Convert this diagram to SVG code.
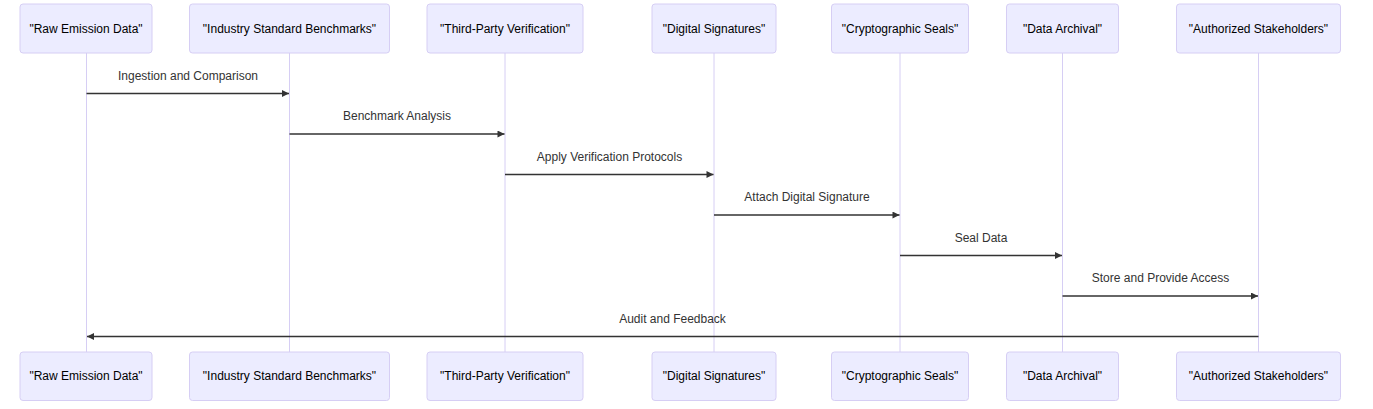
<svg xmlns="http://www.w3.org/2000/svg" width="1373" height="409" viewBox="0 0 1373 409">
<style>
.actor rect{fill:#ECECFF;stroke:#D6CEF4;stroke-width:1}
.actor text{font-family:"Liberation Sans",Arial,sans-serif;font-size:12px;fill:#000;text-anchor:middle;dominant-baseline:central}
.life{stroke:#D6CEF4;stroke-width:1}
.msg{stroke:#333;stroke-width:1.5;fill:none}
.lbl{font-family:"Liberation Sans",Arial,sans-serif;font-size:12px;fill:#333;text-anchor:middle;dominant-baseline:central}
</style>
<defs>
<marker id="ah" viewBox="0 0 10 10" refX="10" refY="5" markerWidth="8" markerHeight="7" markerUnits="userSpaceOnUse" orient="auto">
<path d="M0,0 L10,5 L0,10 z" fill="#333"/>
</marker>
</defs>
<rect width="1373" height="409" fill="#fff"/>
<g id="lifelines">
<line class="life" x1="86.5" y1="53" x2="86.5" y2="352"/>
<line class="life" x1="289.5" y1="53" x2="289.5" y2="352"/>
<line class="life" x1="505" y1="53" x2="505" y2="352"/>
<line class="life" x1="714" y1="53" x2="714" y2="352"/>
<line class="life" x1="900" y1="53" x2="900" y2="352"/>
<line class="life" x1="1062.5" y1="53" x2="1062.5" y2="352"/>
<line class="life" x1="1258.5" y1="53" x2="1258.5" y2="352"/>
</g>
<g id="raw" class="actor">
<rect x="20" y="4" width="132" height="49" rx="3"/><text x="86" y="28.5">"Raw Emission Data"</text>
<rect x="20" y="352" width="132" height="48.5" rx="3"/><text x="86" y="376">"Raw Emission Data"</text>
</g>
<g id="bench" class="actor">
<rect x="189.5" y="4" width="200" height="49" rx="3"/><text x="289.5" y="28.5">"Industry Standard Benchmarks"</text>
<rect x="189.5" y="352" width="200" height="48.5" rx="3"/><text x="289.5" y="376">"Industry Standard Benchmarks"</text>
</g>
<g id="verif" class="actor">
<rect x="427" y="4" width="156" height="49" rx="3"/><text x="505" y="28.5">"Third-Party Verification"</text>
<rect x="427" y="352" width="156" height="48.5" rx="3"/><text x="505" y="376">"Third-Party Verification"</text>
</g>
<g id="sig" class="actor">
<rect x="652" y="4" width="124" height="49" rx="3"/><text x="714" y="28.5">"Digital Signatures"</text>
<rect x="652" y="352" width="124" height="48.5" rx="3"/><text x="714" y="376">"Digital Signatures"</text>
</g>
<g id="seal" class="actor">
<rect x="831.5" y="4" width="137" height="49" rx="3"/><text x="900" y="28.5">"Cryptographic Seals"</text>
<rect x="831.5" y="352" width="137" height="48.5" rx="3"/><text x="900" y="376">"Cryptographic Seals"</text>
</g>
<g id="arch" class="actor">
<rect x="1006.5" y="4" width="112" height="49" rx="3"/><text x="1062.5" y="28.5">"Data Archival"</text>
<rect x="1006.5" y="352" width="112" height="48.5" rx="3"/><text x="1062.5" y="376">"Data Archival"</text>
</g>
<g id="stake" class="actor">
<rect x="1176.5" y="4" width="164" height="49" rx="3"/><text x="1258.5" y="28.5">"Authorized Stakeholders"</text>
<rect x="1176.5" y="352" width="164" height="48.5" rx="3"/><text x="1258.5" y="376">"Authorized Stakeholders"</text>
</g>
<g id="messages">
<line class="msg" x1="86.5" y1="93.5" x2="289" y2="93.5" marker-end="url(#ah)"/>
<text class="lbl" x="188" y="76">Ingestion and Comparison</text>
<line class="msg" x1="289.5" y1="134" x2="504.5" y2="134" marker-end="url(#ah)"/>
<text class="lbl" x="397" y="116">Benchmark Analysis</text>
<line class="msg" x1="505" y1="174.5" x2="713.5" y2="174.5" marker-end="url(#ah)"/>
<text class="lbl" x="609.5" y="157">Apply Verification Protocols</text>
<line class="msg" x1="714" y1="215" x2="899.5" y2="215" marker-end="url(#ah)"/>
<text class="lbl" x="807" y="197">Attach Digital Signature</text>
<line class="msg" x1="900" y1="255.5" x2="1062" y2="255.5" marker-end="url(#ah)"/>
<text class="lbl" x="981" y="238">Seal Data</text>
<line class="msg" x1="1062.5" y1="296" x2="1258" y2="296" marker-end="url(#ah)"/>
<text class="lbl" x="1160.5" y="278">Store and Provide Access</text>
<line class="msg" x1="1258.5" y1="336.5" x2="87" y2="336.5" marker-end="url(#ah)"/>
<text class="lbl" x="672.5" y="319">Audit and Feedback</text>
</g>
</svg>
